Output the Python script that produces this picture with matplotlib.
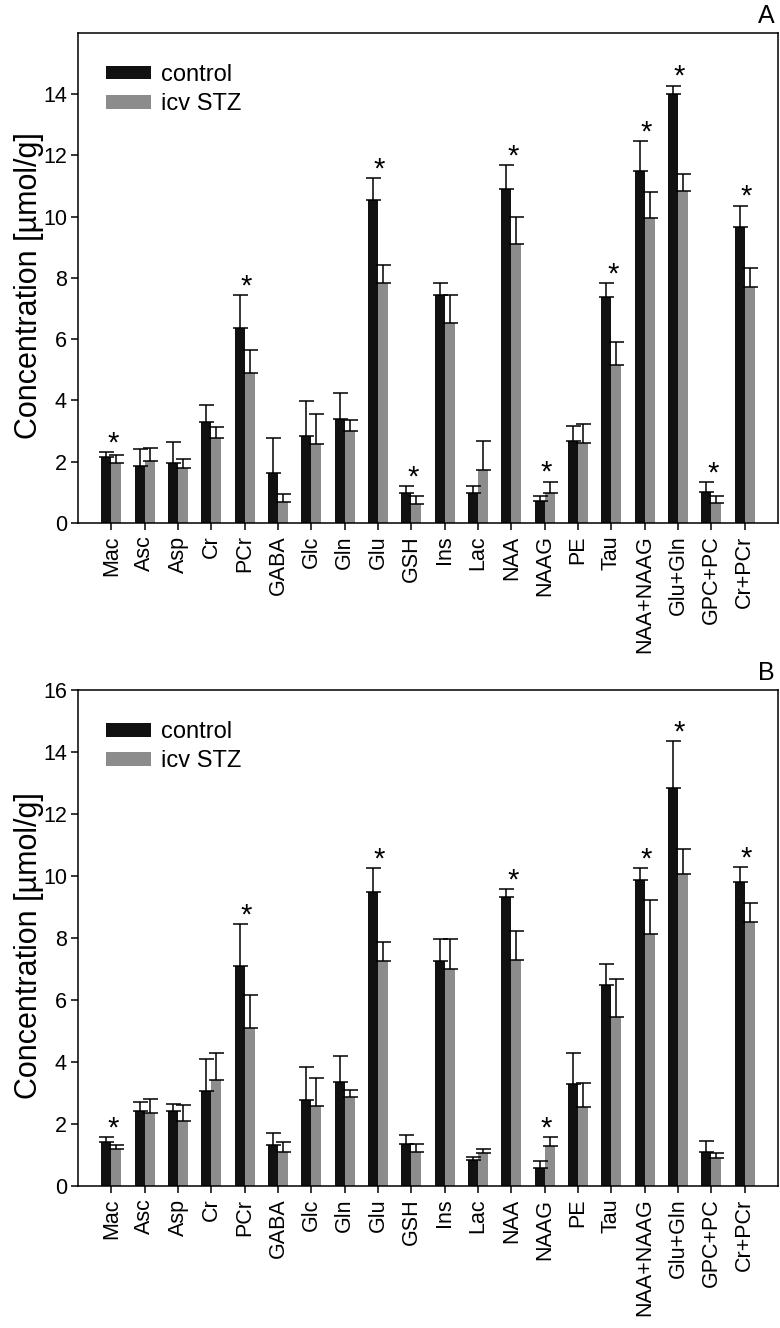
import numpy as np
import matplotlib.pyplot as plt

plt.rcParams['font.family'] = ['Liberation Sans', 'DejaVu Sans']

# Metabolitos
categorias = ['Mac', 'Asc', 'Asp', 'Cr', 'PCr', 'GABA', 'Glc', 'Gln', 'Glu',
              'GSH', 'Ins', 'Lac', 'NAA', 'NAAG', 'PE', 'Tau', 'NAA+NAAG',
              'Glu+Gln', 'GPC+PC', 'Cr+PCr']

# Panel A
a_control = [2.15, 1.87, 1.97, 3.29, 6.35, 1.62, 2.84, 3.40, 10.55, 0.97,
             7.43, 0.97, 10.89, 0.71, 2.67, 7.39, 11.49, 13.99, 1.00, 9.66]
a_control_sd = [0.16, 0.55, 0.66, 0.55, 1.09, 1.16, 1.15, 0.85, 0.71, 0.23,
                0.41, 0.24, 0.80, 0.17, 0.48, 0.43, 0.97, 0.29, 0.34, 0.70]
a_stz = [1.97, 2.01, 1.78, 2.79, 4.89, 0.69, 2.57, 3.00, 7.84, 0.62,
         6.53, 1.72, 9.10, 0.99, 2.60, 5.16, 9.97, 10.85, 0.64, 7.71]
a_stz_sd = [0.25, 0.43, 0.31, 0.33, 0.75, 0.25, 1.00, 0.37, 0.58, 0.26,
            0.90, 0.95, 0.90, 0.36, 0.64, 0.74, 0.83, 0.53, 0.24, 0.60]
a_sig = ['Mac', 'PCr', 'Glu', 'GSH', 'NAA', 'NAAG', 'Tau', 'NAA+NAAG',
         'Glu+Gln', 'GPC+PC', 'Cr+PCr']

# Panel B
b_control = [1.43, 2.43, 2.43, 3.08, 7.11, 1.32, 2.79, 3.34, 9.50, 1.37,
             7.26, 0.83, 9.32, 0.59, 3.30, 6.49, 9.86, 12.83, 1.11, 9.80]
b_control_sd = [0.15, 0.28, 0.21, 1.02, 1.33, 0.40, 1.04, 0.86, 0.75, 0.29,
                0.71, 0.12, 0.27, 0.22, 0.98, 0.68, 0.39, 1.53, 0.35, 0.49]
b_stz = [1.19, 2.37, 2.10, 3.43, 5.10, 1.11, 2.58, 2.88, 7.25, 1.09,
         6.99, 1.06, 7.30, 1.28, 2.55, 5.45, 8.13, 10.08, 0.91, 8.51]
b_stz_sd = [0.14, 0.45, 0.52, 0.87, 1.06, 0.30, 0.90, 0.22, 0.61, 0.25,
            0.98, 0.13, 0.94, 0.31, 0.78, 1.22, 1.10, 0.79, 0.16, 0.62]
b_sig = ['Mac', 'PCr', 'Glu', 'NAA', 'NAAG', 'NAA+NAAG', 'Glu+Gln', 'Cr+PCr']

negro = '#111111'
gris = '#8c8c8c'
ancho = 0.3


def panel(ax, control, control_sd, stz, stz_sd, sig, letra, yticks):
    x = np.arange(len(categorias))
    control = np.array(control)
    stz = np.array(stz)
    control_sd = np.array(control_sd)
    stz_sd = np.array(stz_sd)

    ax.bar(x - ancho/2, control, ancho, color=negro, label='control')
    ax.bar(x + ancho/2, stz, ancho, color=gris, label='icv STZ')

    # Barras de error solo hacia arriba
    for xs, ys, sd in [(x - ancho/2, control, control_sd),
                       (x + ancho/2, stz, stz_sd)]:
        ax.errorbar(xs, ys, yerr=[np.zeros_like(sd), sd], fmt='none',
                    ecolor='black', elinewidth=1.1, capsize=5.4,
                    capthick=1.1)

    # Asteriscos de significancia
    for nombre in sig:
        i = categorias.index(nombre)
        tope = max(control[i] + control_sd[i], stz[i] + stz_sd[i])
        ax.text(i + 0.05, tope + 0.02, '*', ha='center', va='baseline',
                fontsize=21)

    ax.set_xlim(-1, 20)
    ax.set_ylim(0, 16)
    ax.set_yticks(yticks)
    ax.set_xticks(x)
    ax.set_xticklabels(categorias, rotation=90, fontsize=15.5)
    ax.tick_params(axis='y', labelsize=15.5, direction='out', length=5,
                   width=1.1, pad=3)
    ax.tick_params(axis='x', direction='out', length=5, width=1.1, pad=4)
    for s in ax.spines.values():
        s.set_linewidth(1.1)
    ax.set_ylabel('Concentration [µmol/g]', fontsize=22)
    ax.yaxis.set_label_coords(-0.048, 0.485)

    ax.legend(loc='upper left', frameon=False, fontsize=17,
              handlelength=1.9, handleheight=0.53, handletextpad=0.45,
              labelspacing=0.3, borderaxespad=0.6,
              bbox_to_anchor=(0.006, 0.985))
    ax.text(0.995, 1.01, letra, transform=ax.transAxes, ha='right',
            va='bottom', fontsize=18)


fig = plt.figure(figsize=(7.8, 13.28), dpi=100)
ax_a = fig.add_axes([0.1, 0.6062, 0.8974, 0.3690])
ax_b = fig.add_axes([0.1, 0.1069, 0.8974, 0.3735])

panel(ax_a, a_control, a_control_sd, a_stz, a_stz_sd, a_sig, 'A',
      np.arange(0, 15, 2))
panel(ax_b, b_control, b_control_sd, b_stz, b_stz_sd, b_sig, 'B',
      np.arange(0, 17, 2))

fig.savefig('out.png', dpi=100)
